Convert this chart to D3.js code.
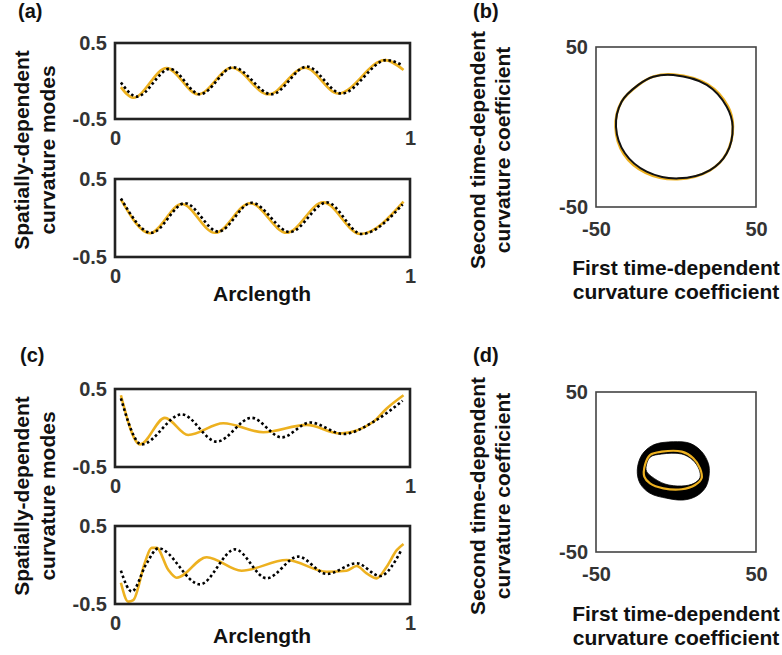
<!DOCTYPE html>
<html>
<head>
<meta charset="utf-8">
<script src="https://cdn.jsdelivr.net/npm/d3@7"></script>
<style>
  html, body { margin: 0; padding: 0; background: #fff; }
  svg text { font-family: "Liberation Sans", Arial, Helvetica, sans-serif; font-weight: bold; }
</style>
</head>
<body>
<svg id="fig" width="782" height="655"></svg>
<script>
// ---------- tick labels ----------
const modeTicks = [-0.5, 0.5];
const arcTicks = [0, 1];
const coeffTicks = [-50, 50];

// ---------- spatially-dependent curvature modes: [arclength, value] ----------
// panel (a), first mode
const a1Learned = [[0.02,-0.08],[0.062,-0.22],[0.175,0.17],[0.282,-0.175],[0.396,0.175],[0.52,-0.175],[0.644,0.175],[0.757,-0.165],[0.915,0.275],[0.978,0.145]];
const a1True    = [[0.02,-0.02],[0.074,-0.205],[0.186,0.16],[0.288,-0.175],[0.401,0.18],[0.531,-0.175],[0.65,0.19],[0.768,-0.165],[0.921,0.275],[0.975,0.205]];
// panel (a), second mode
const a2Learned = [[0.02,0.24],[0.119,-0.195],[0.226,0.18],[0.339,-0.19],[0.458,0.19],[0.582,-0.19],[0.706,0.2],[0.831,-0.205],[0.978,0.21]];
const a2True    = [[0.02,0.25],[0.124,-0.19],[0.237,0.19],[0.35,-0.175],[0.463,0.195],[0.593,-0.18],[0.718,0.2],[0.836,-0.205],[0.975,0.175]];
// panel (c), first mode
const c1Learned = [[0.02,0.42],[0.085,-0.21],[0.169,0.13],[0.248,-0.09],[0.367,0.06],[0.503,-0.055],[0.65,0.04],[0.763,-0.07],[0.876,0.08],[0.921,0.25],[0.978,0.42]];
const c1True    = [[0.02,0.38],[0.09,-0.21],[0.226,0.175],[0.345,-0.175],[0.463,0.13],[0.565,-0.12],[0.661,0.07],[0.774,-0.077],[0.876,0.08],[0.975,0.35]];
// panel (c), second mode
const c2Learned = [[0.02,-0.227],[0.045,-0.47],[0.062,-0.45],[0.102,0.04],[0.124,0.22],[0.141,0.22],[0.181,-0.064],[0.209,-0.163],[0.311,0.1],[0.429,-0.073],[0.582,0.064],[0.718,-0.086],[0.785,-0.073],[0.819,-0.013],[0.853,-0.107],[0.887,-0.171],[0.921,-0.021],[0.955,0.19],[0.978,0.27]];
const c2True    = [[0.02,-0.073],[0.057,-0.34],[0.107,0.02],[0.147,0.214],[0.288,-0.248],[0.407,0.2],[0.514,-0.17],[0.621,0.107],[0.718,-0.115],[0.819,0.022],[0.898,-0.141],[0.972,0.2]];

// ---------- time-dependent curvature coefficients: [first, second] ----------
// panel (b)
const bLearned = [[-1.5,32.8],[19.8,26.6],[32.4,13],[35.6,0.4],[31.5,-16.6],[21,-27.2],[1,-32.6],[-19,-28.6],[-32.6,-17],[-37.8,-0.3],[-34.2,15.5],[-23.8,26],[-14,31.5]];
const bTrue    = [[-1.7,32.5],[19.2,26.3],[31.7,12.7],[35.4,0.2],[31.7,-16.4],[21.3,-26.9],[1.4,-32.1],[-18.3,-27.9],[-31.9,-16.4],[-37.5,0.2],[-34,15.8],[-23.6,26.3],[-14.2,31.4]];
// panel (d): learned loop and the band swept by the measured trajectories
const dLearned = [[-19.4,4.4],[-16.25,10.6],[-8.9,12.7],[3.6,12.7],[10.8,8.6],[15,2.3],[16,-3.9],[11.9,-8.1],[3.6,-10.8],[-7.9,-10.2],[-16.25,-7.1],[-19.8,-2.9]];
const dTrueOuter = [[-1.7,18.9],[8.75,17.9],[16.1,12.7],[20.2,5.4],[20.8,-0.8],[18.75,-9.2],[12.9,-15],[4.6,-17.5],[-5.8,-16.4],[-16.25,-13.3],[-22.5,-7.1],[-24.2,1.25],[-21.4,10.6],[-14.2,16.9]];
const dTrueInner = [[-18.75,2.9],[-16.25,9.2],[-8.9,11.25],[3.6,11.25],[10.4,7.5],[14.4,1.7],[15,-3.5],[11.25,-7.1],[3.6,-8.75],[-6.9,-7.5],[-15.2,-2.9],[-18.3,0.2]];

// ---------- styles ----------
const ORANGE = "#EDB120";
const TICK_COLOR = "#333";
const svg = d3.select("#fig");

function tickText(sel) {
  sel.selectAll("text").attr("font-size", 20).attr("fill", TICK_COLOR)
     .style("font-family", "'Liberation Sans', Arial, sans-serif").style("font-weight", "bold");
  sel.select(".domain").remove();
  sel.selectAll(".tick line").remove();
}

function modePanel(top, h, learned, truth) {
  const x = d3.scaleLinear().domain([0, 1]).range([115, 410]);
  const y = d3.scaleLinear().domain([-0.5, 0.5]).range([top + h, top]);
  const line = d3.line().x(d => x(d[0])).y(d => y(d[1])).curve(d3.curveMonotoneX);
  const g = svg.append("g");
  g.append("path").attr("d", line(learned)).attr("fill", "none")
    .attr("stroke", ORANGE).attr("stroke-width", 2.6).attr("stroke-linejoin", "round");
  g.append("path").attr("d", line(truth)).attr("fill", "none")
    .attr("stroke", "#000").attr("stroke-width", 2.6).attr("stroke-dasharray", "2.6 2.6");
  g.append("rect").attr("x", 115).attr("y", top).attr("width", 295).attr("height", h)
    .attr("fill", "none").attr("stroke", "#222").attr("stroke-width", 2.6);
  g.append("g").attr("transform", "translate(115,0)")
    .call(d3.axisLeft(y).tickValues(modeTicks).tickFormat(d => String(d)).tickSize(0).tickPadding(8))
    .call(tickText);
  g.append("g").attr("transform", `translate(0,${top + h})`)
    .call(d3.axisBottom(x).tickValues(arcTicks).tickFormat(d => String(d)).tickSize(0).tickPadding(12))
    .call(tickText);
}

function coeffPanel(top, drawMarks) {
  const x = d3.scaleLinear().domain([-50, 50]).range([596, 756]);
  const y = d3.scaleLinear().domain([-50, 50]).range([top + 160, top]);
  const g = svg.append("g");
  g.append("rect").attr("x", 596).attr("y", top).attr("width", 160).attr("height", 160)
    .attr("fill", "none").attr("stroke", "#444").attr("stroke-width", 1.6);
  drawMarks(g, x, y);
  g.append("g").attr("transform", "translate(596,0)")
    .call(d3.axisLeft(y).tickValues(coeffTicks).tickFormat(d => String(d)).tickSize(0).tickPadding(8))
    .call(tickText);
  g.append("g").attr("transform", `translate(0,${top + 160})`)
    .call(d3.axisBottom(x).tickValues(coeffTicks).tickFormat(d => String(d)).tickSize(0).tickPadding(15))
    .call(tickText);
}

function label(txt, x, y, size, rotate, anchor) {
  const t = svg.append("text").text(txt).attr("font-size", size).attr("fill", "#111")
    .attr("text-anchor", anchor || "middle");
  if (rotate) t.attr("transform", `translate(${x},${y}) rotate(-90)`);
  else t.attr("x", x).attr("y", y);
}

// ---------- left column ----------
modePanel(43, 76, a1Learned, a1True);
modePanel(179, 78, a2Learned, a2True);
modePanel(389, 78, c1Learned, c1True);
modePanel(526, 78, c2Learned, c2True);

// ---------- right column ----------
coeffPanel(47, (g, x, y) => {
  const loop = d3.line().x(d => x(d[0])).y(d => y(d[1])).curve(d3.curveCatmullRomClosed);
  g.append("path").attr("d", loop(bLearned)).attr("fill", "none").attr("stroke", ORANGE).attr("stroke-width", 2.6);
  g.append("path").attr("d", loop(bTrue)).attr("fill", "none").attr("stroke", "#111").attr("stroke-width", 2);
});
coeffPanel(392, (g, x, y) => {
  const loop = d3.line().x(d => x(d[0])).y(d => y(d[1])).curve(d3.curveCatmullRomClosed);
  g.append("path").attr("d", loop(dTrueOuter) + loop(dTrueInner))
    .attr("fill", "#000").attr("fill-rule", "evenodd").attr("stroke", "#000").attr("stroke-width", 0.8);
  g.append("path").attr("d", loop(dLearned)).attr("fill", "none").attr("stroke", ORANGE).attr("stroke-width", 2.2);
});

// ---------- text ----------
label("(a)", 18, 18, 20, false, "start");
label("(b)", 473, 18, 20, false, "start");
label("(c)", 20, 362, 20, false, "start");
label("(d)", 473, 362, 20, false, "start");

label("Spatially-dependent", 29, 150, 21, true);
label("curvature modes", 55, 150, 21, true);
label("Spatially-dependent", 29, 496, 21, true);
label("curvature modes", 55, 496, 21, true);

label("Arclength", 262, 301, 21);
label("Arclength", 262, 643, 21);

label("Second time-dependent", 485, 150, 21, true);
label("curvature coefficient", 510, 150, 21, true);
label("Second time-dependent", 485, 496, 21, true);
label("curvature coefficient", 510, 496, 21, true);

label("First time-dependent", 676, 275, 21);
label("curvature coefficient", 676, 299, 21);
label("First time-dependent", 676, 621, 21);
label("curvature coefficient", 676, 645, 21);
</script>
</body>
</html>
